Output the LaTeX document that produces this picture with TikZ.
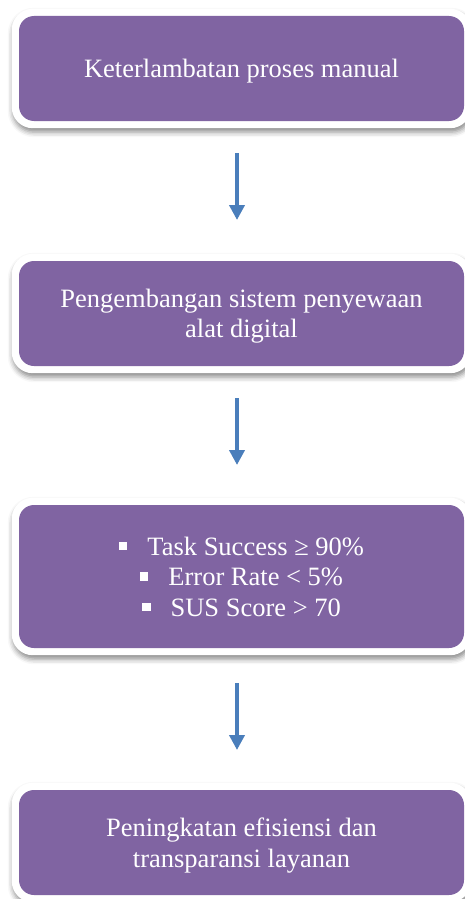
\documentclass[tikz,border=0pt]{standalone}
\usepackage{fontspec}
\setmainfont{Liberation Serif}
\usetikzlibrary{arrows.meta,shadows.blur,fit,backgrounds}
\definecolor{boxpurple}{HTML}{8064A2}
\definecolor{arrowblue}{HTML}{4A7EBB}
\newcommand{\sqbullet}{\rule[5pt]{8.5pt}{8.5pt}\hspace{20pt}}
\begin{document}
\begin{tikzpicture}[x=1pt,y=1pt,
  box/.style={fill=boxpurple, rounded corners=15pt, text=white, align=center,
    font=\fontsize{26.5}{30.5}\selectfont, minimum width=445pt, inner sep=0pt, text depth=0pt},
  frame/.style={fill=white, rounded corners=21pt, inner sep=7pt,
    blur shadow={shadow xshift=1pt, shadow yshift=-4pt, shadow blur radius=5pt, shadow opacity=45}},
  flow/.style={draw=arrowblue, line width=3.7pt, -{Triangle[width=15pt,length=15pt]}}]
\useasboundingbox (0,0) rectangle (464,-899);
\node[box, minimum height=105pt] (b1) at (241.5,-68.5) {Keterlambatan proses manual};
\node[box, minimum height=105pt] (b2) at (241.5,-313.5) {Pengembangan sistem penyewaan\\alat digital};
\node[box, minimum height=143pt] (b3) at (241.5,-576.5)
  {\sqbullet Task Success ≥ 90\%\\
   \sqbullet Error Rate < 5\%\\
   \sqbullet SUS Score > 70};
\node[box, minimum height=105pt] (b4) at (241.5,-842.5) {Peningkatan efisiensi dan\\transparansi layanan};
\begin{scope}[on background layer]
\node[frame, fit=(b1)] (f1) {};
\node[frame, fit=(b2)] (f2) {};
\node[frame, fit=(b3)] (f3) {};
\node[frame, fit=(b4)] (f4) {};
\end{scope}
\coordinate (a1s) at (237,-153);
\coordinate (a1e) at (237,-220);
\coordinate (a2s) at (237,-398);
\coordinate (a2e) at (237,-465);
\coordinate (a3s) at (237,-683);
\coordinate (a3e) at (237,-750);
\draw[flow] (a1s) -- (a1e);
\draw[flow] (a2s) -- (a2e);
\draw[flow] (a3s) -- (a3e);
\end{tikzpicture}
\end{document}
